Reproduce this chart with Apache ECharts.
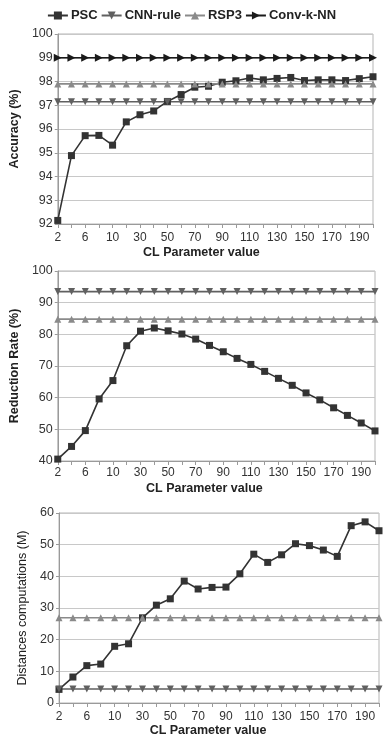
<!DOCTYPE html>
<html>
<head>
<meta charset="utf-8">
<script src="https://cdn.jsdelivr.net/npm/echarts@6/dist/echarts.min.js"></script>
<style>html,body{margin:0;padding:0;background:#fff}#c{width:383px;height:742px}</style>
</head>
<body>
<div id="c"></div>
<script>
const categories = ['2','4','6','8','10','20','30','40','50','60','70','80','90','100','110','120','130','140','150','160','170','180','190','200'];

const accPSC  = [92.15,94.88,95.72,95.73,95.32,96.3,96.6,96.76,97.16,97.45,97.76,97.8,97.97,98.03,98.15,98.07,98.13,98.17,98.04,98.07,98.07,98.04,98.12,98.2];
const accCNN  = [97.15,97.15,97.15,97.15,97.15,97.15,97.15,97.15,97.15,97.15,97.15,97.15,97.15,97.15,97.15,97.15,97.15,97.15,97.15,97.15,97.15,97.15,97.15,97.15];
const accRSP3 = [97.9,97.9,97.9,97.9,97.9,97.9,97.9,97.9,97.9,97.9,97.9,97.9,97.9,97.9,97.9,97.9,97.9,97.9,97.9,97.9,97.9,97.9,97.9,97.9];
const accConv = [99,99,99,99,99,99,99,99,99,99,99,99,99,99,99,99,99,99,99,99,99,99,99,99];

const redPSC  = [40.6,44.6,49.6,59.6,65.4,76.4,81.0,82.0,81.1,80.1,78.5,76.5,74.5,72.4,70.5,68.3,66.1,63.9,61.5,59.3,56.8,54.4,52.0,49.5];
const redCNN  = [93.5,93.5,93.5,93.5,93.5,93.5,93.5,93.5,93.5,93.5,93.5,93.5,93.5,93.5,93.5,93.5,93.5,93.5,93.5,93.5,93.5,93.5,93.5,93.5];
const redRSP3 = [84.8,84.8,84.8,84.8,84.8,84.8,84.8,84.8,84.8,84.8,84.8,84.8,84.8,84.8,84.8,84.8,84.8,84.8,84.8,84.8,84.8,84.8,84.8,84.8];

const distPSC  = [4.3,8.2,11.8,12.3,17.9,18.7,26.9,30.9,32.9,38.5,36.0,36.5,36.6,40.8,47.0,44.4,46.8,50.3,49.7,48.3,46.3,56.0,57.2,54.4];
const distCNN  = [4.4,4.4,4.4,4.4,4.4,4.4,4.4,4.4,4.4,4.4,4.4,4.4,4.4,4.4,4.4,4.4,4.4,4.4,4.4,4.4,4.4,4.4,4.4,4.4];
const distRSP3 = [26.9,26.9,26.9,26.9,26.9,26.9,26.9,26.9,26.9,26.9,26.9,26.9,26.9,26.9,26.9,26.9,26.9,26.9,26.9,26.9,26.9,26.9,26.9,26.9];

const accTicks = {min: 92, max: 100, interval: 1};
const redTicks = {min: 40, max: 100, interval: 10};
const distTicks = {min: 0, max: 60, interval: 10};

const FONT = '"Liberation Sans", Arial, sans-serif';
const C_PSC = '#333333', C_CNN = '#606060', C_RSP3 = '#8a8a8a', C_CONV = '#1a1a1a';

const chart = echarts.init(document.getElementById('c'), null, {renderer: 'canvas'});

function xAxis(gridIndex, margin, gap, shift) {
  return {
    type: 'category', gridIndex, data: categories, boundaryGap: false,
    axisLine: {lineStyle: {color: '#9a9a9a', width: 1}},
    axisTick: {show: true, interval: 0, length: 4, lineStyle: {color: '#9a9a9a'}},
    axisLabel: {interval: 1, margin, color: '#333', fontSize: 12, fontFamily: FONT},
    splitLine: {show: false},
    name: 'CL Parameter value', nameLocation: 'middle', nameGap: gap,
    nameTextStyle: {fontFamily: FONT, fontWeight: 'bold', fontSize: 12.5, color: '#222', padding: [0, shift, 0, 0]}
  };
}
function yAxis(gridIndex, t, name, gap, bold) {
  return {
    type: 'value', gridIndex, min: t.min, max: t.max, interval: t.interval,
    axisLine: {show: true, lineStyle: {color: '#9a9a9a', width: 1}},
    axisTick: {show: true, length: 3, lineStyle: {color: '#9a9a9a'}},
    axisLabel: {color: '#333', fontSize: 12.5, fontFamily: FONT, margin: 5},
    splitLine: {show: true, lineStyle: {color: '#c8c8c8', width: 1}},
    name, nameLocation: 'middle', nameGap: gap, nameRotate: 90,
    nameTextStyle: {fontFamily: FONT, fontWeight: bold ? 'bold' : 'normal', fontSize: 12.5, color: '#222'}
  };
}
function line(name, data, xi, color, symbol, rotate, size) {
  return {
    name, type: 'line', data, xAxisIndex: xi, yAxisIndex: xi,
    symbol, symbolRotate: rotate, symbolSize: size, showSymbol: true,
    lineStyle: {color, width: 1.6}, itemStyle: {color},
    animation: false, z: 2
  };
}

chart.setOption({
  animation: false,
  backgroundColor: '#fff',
  legend: {
    top: 4, left: 'center', itemGap: 3, itemWidth: 20, itemHeight: 10,
    textStyle: {fontFamily: FONT, fontWeight: 'bold', fontSize: 13, color: '#222', padding: [0, 0, 0, -2]},
    data: ['PSC', 'CNN-rule', 'RSP3', 'Conv-k-NN']
  },
  grid: [
    {left: 51, right: 10, top: 34, height: 190, show: true, borderColor: '#b5b5b5', borderWidth: 1},
    {left: 52, right: 8, top: 271, height: 190, show: true, borderColor: '#b5b5b5', borderWidth: 1},
    {left: 59, right: 4, top: 513, height: 190, show: true, borderColor: '#b5b5b5', borderWidth: 1}
  ],
  xAxis: [xAxis(0, 8, 22, 28), xAxis(1, 6, 21, 24), xAxis(2, 8, 20, 22)],
  yAxis: [
    yAxis(0, accTicks, 'Accuracy (%)', 26, true),
    yAxis(1, redTicks, 'Reduction Rate (%)', 23, true),
    yAxis(2, distTicks, 'Distances computations (M)', 25, false)
  ],
  series: [
    line('PSC', accPSC, 0, C_PSC, 'rect', 0, 7),
    line('CNN-rule', accCNN, 0, C_CNN, 'triangle', 180, 7),
    line('RSP3', accRSP3, 0, C_RSP3, 'triangle', 0, 7),
    line('Conv-k-NN', accConv, 0, C_CONV, 'triangle', -90, 8),
    line('PSC', redPSC, 1, C_PSC, 'rect', 0, 7),
    line('CNN-rule', redCNN, 1, C_CNN, 'triangle', 180, 7),
    line('RSP3', redRSP3, 1, C_RSP3, 'triangle', 0, 7),
    line('PSC', distPSC, 2, C_PSC, 'rect', 0, 7),
    line('CNN-rule', distCNN, 2, C_CNN, 'triangle', 180, 7),
    line('RSP3', distRSP3, 2, C_RSP3, 'triangle', 0, 7)
  ]
});
</script>
</body>
</html>
